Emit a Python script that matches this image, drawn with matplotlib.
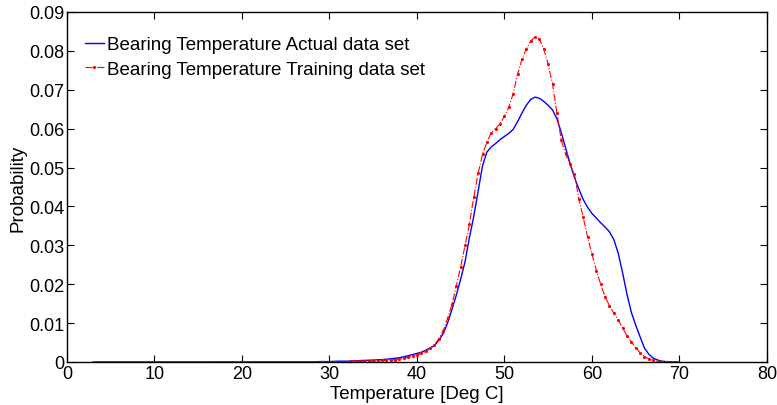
#!/usr/bin/env python3
"""Bearing temperature probability distribution: actual vs training data set."""
import numpy as np
import matplotlib
matplotlib.use('Agg')
import matplotlib.pyplot as plt

plt.rcParams['font.family'] = ['Liberation Sans', 'DejaVu Sans']

# Actual data set (blue, line only)
actual_temp = np.concatenate([np.arange(3, 40, 1.0), np.arange(40, 70.5, 0.5)])
actual_prob = [
    # 3 .. 39 (step 1)
    0, 0, 0, 0, 0, 0, 0, 0, 0, 0, 0, 0, 0, 0, 0, 0, 0, 0, 0, 0, 0, 0, 0, 0, 0, 0,
    0.0001, 0.0001, 0.0002, 0.0002, 0.0003, 0.0004, 0.0005, 0.0006, 0.0008, 0.0011, 0.0016,
    # 40 .. 70 (step 0.5)
    0.0022, 0.0025, 0.0030, 0.0036, 0.0042, 0.0056, 0.0073, 0.0100, 0.0135, 0.0172,
    0.0213, 0.0258, 0.0320, 0.0375, 0.0440, 0.0505, 0.0540, 0.0553, 0.0562, 0.0572,
    0.0580, 0.0588, 0.0598, 0.0618, 0.0640, 0.0660, 0.0675, 0.0681, 0.0678, 0.0670,
    0.0660, 0.0648, 0.0625, 0.0590, 0.0550, 0.0510, 0.0475, 0.0445, 0.0418, 0.0398,
    0.0382, 0.0370, 0.0358, 0.0347, 0.0335, 0.0315, 0.0280, 0.0230, 0.0175, 0.0128,
    0.0095, 0.0065, 0.0036, 0.0020, 0.0010, 0.0005, 0.0002, 0.0001, 0.0, 0.0, 0.0,
]

# Training data set (red, dash-dot with dots)
train_temp = np.arange(17, 70, 0.5)
train_prob = [
    # 17 .. 29.5
    0, 0, 0, 0, 0, 0, 0, 0, 0, 0, 0, 0, 0, 0, 0, 0, 0, 0, 0, 0, 0, 0, 0, 0, 0, 0,
    # 30 .. 39.5
    0.0001, 0.0001, 0.0001, 0.0001, 0.0001, 0.0002, 0.0002, 0.0002, 0.0002, 0.0003,
    0.0003, 0.0003, 0.0004, 0.0004, 0.0005, 0.0006, 0.0008, 0.0010, 0.0012, 0.0015,
    # 40 .. 69.5
    0.0018, 0.0022, 0.0027, 0.0035, 0.0044, 0.0060, 0.0080, 0.0112, 0.0148, 0.0195,
    0.0245, 0.0300, 0.0355, 0.0425, 0.0485, 0.0535, 0.0565, 0.0590, 0.0600, 0.0613,
    0.0632, 0.0655, 0.0690, 0.0740, 0.0778, 0.0805, 0.0825, 0.0836, 0.0830, 0.0805,
    0.0765, 0.0715, 0.0640, 0.0570, 0.0535, 0.0508, 0.0483, 0.0420, 0.0372, 0.0322,
    0.0278, 0.0235, 0.0200, 0.0168, 0.0145, 0.0125, 0.0108, 0.0088, 0.0068, 0.0052,
    0.0037, 0.0024, 0.0014, 0.0008, 0.0004, 0.0002, 0.0001, 0.0, 0.0, 0.0,
]

x_ticks = np.arange(0, 81, 10)
y_ticks = [0, 0.01, 0.02, 0.03, 0.04, 0.05, 0.06, 0.07, 0.08, 0.09]
y_labels = ['0', '0.01', '0.02', '0.03', '0.04', '0.05', '0.06', '0.07', '0.08', '0.09']

fig = plt.figure(figsize=(7.77, 4.06), dpi=100)
ax = fig.add_axes([0.0862, 0.106, 0.9008, 0.862])

ax.plot(actual_temp, actual_prob, color='blue', linewidth=1.0,
        label='Bearing Temperature Actual data set')
ax.plot(train_temp, train_prob, color='red', linestyle='-.', linewidth=0.8,
        marker='.', markersize=2.5,
        label='Bearing Temperature Training data set')

ax.set_xlim(0, 80)
ax.set_ylim(0, 0.09)
ax.set_xticks(x_ticks)
ax.set_yticks(y_ticks)
ax.set_yticklabels(y_labels)
ax.tick_params(direction='in', top=True, right=True, labelsize=13, length=5, pad=2)
for s in ax.spines.values():
    s.set_linewidth(1.0)

ax.set_xlabel('Temperature [Deg C]', fontsize=13.5, labelpad=2)
ax.set_ylabel('Probability', fontsize=13.5, labelpad=2)

ax.legend(loc='upper left', frameon=False, fontsize=13.5, handlelength=1.0,
          handletextpad=0.15, borderaxespad=0, borderpad=0, labelspacing=0.4,
          bbox_to_anchor=(0.0257, 0.931))

fig.savefig('out.png', dpi=100)
